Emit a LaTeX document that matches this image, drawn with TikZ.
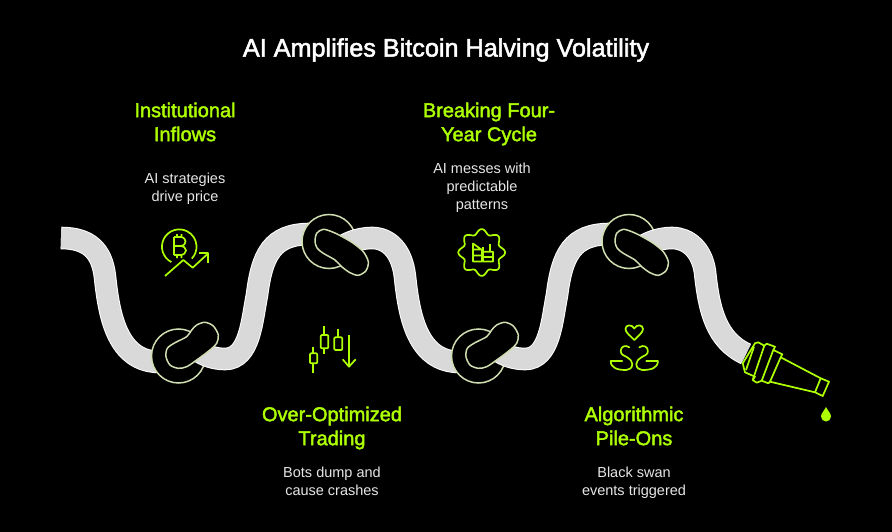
\documentclass[tikz,border=0pt]{standalone}
\usepackage{fontspec}
\setmainfont{Liberation Sans}
\newfontfamily\medfont[FakeBold=2]{Liberation Sans}
\definecolor{lime}{HTML}{AEFF00}
\definecolor{hosegrey}{HTML}{D9D9D9}
\definecolor{knotline}{HTML}{CFDDB0}
\definecolor{bodytext}{HTML}{E6E6E6}
\tikzset{
  titletext/.style={text=white,align=center,font=\medfont\fontsize{25.2}{30}\selectfont},
  headtext/.style={text=lime,align=center,font=\medfont\fontsize{20}{24}\selectfont},
  bodylabel/.style={text=bodytext,align=center,font=\fontsize{14.5}{18.2}\selectfont},
  hoseedge/.style={draw=white,line width=22.6pt},
  hosefill/.style={draw=hosegrey,line width=20.6pt},
  ringknot/.style={circle,draw=knotline,fill=black,line width=1.5pt,minimum size=54pt,inner sep=0pt},
  beanknot/.style={draw=knotline,fill=black,line width=1.5pt},
  icon/.style={draw=lime,line width=1.7pt,line join=round,fill=none},
}
\newcommand{\hoseseg}[1]{\draw[hoseedge] #1; \draw[hosefill] #1;}
\begin{document}
\begin{tikzpicture}[x=1pt,y=-1pt]
\path[use as bounding box,fill=black] (0,0) rectangle (892,532);
% texts
\node[titletext] (title) at (446,50) {AI Amplifies Bitcoin Halving Volatility};
\node[headtext] (h1) at (185,122) {Institutional\\Inflows};
\node[bodylabel] (b1) at (185,188.5) {AI strategies\\drive price};
\node[headtext] (h2) at (489,124) {Breaking Four-\\Year Cycle};
\node[bodylabel] (b2) at (482,188) {AI messes with\\predictable\\patterns};
\node[headtext] (h3) at (332,428) {Over-Optimized\\Trading};
\node[bodylabel] (b3) at (332,481.5) {Bots dump and\\cause crashes};
\node[headtext] (h4) at (634,426) {Algorithmic\\Pile-Ons};
\node[bodylabel] (b4) at (634,482.5) {Black swan\\events triggered};
% hose and knots
\hoseseg{(61,238) .. controls (88,238) and (102,250) .. (105,277) .. controls (109,315) and (117,362) .. (160,362)}
\node[ringknot] (ringa) at (178.5,356) {};
\hoseseg{(197,350) .. controls (205,356) and (215,359) .. (225,359) .. controls (250,359) and (252,320) .. (257,295) .. controls (262,255) and (272,234) .. (310,234)}
\node[ringknot] (ringb) at (329,241.5) {};
\hoseseg{(345,245) .. controls (352,241) and (362,238) .. (372,238) .. controls (388,238) and (402,250) .. (405,277) .. controls (409,315) and (417,362) .. (460,362)}
\node[ringknot] (ringc) at (478.5,356) {};
\hoseseg{(497,350) .. controls (505,356) and (515,359) .. (525,359) .. controls (550,359) and (552,320) .. (557,295) .. controls (562,255) and (572,234) .. (610,234)}
\node[ringknot] (ringd) at (629,241.5) {};
\hoseseg{(645,245) .. controls (652,241) and (662,238) .. (672,238) .. controls (688,238) and (702,250) .. (705,272) .. controls (709,310) and (716,340) .. (746,354)}
% beans
\foreach \d in {0,300}{
  \draw[beanknot,shift={(\d,0)}] plot[smooth cycle] coordinates {(166,356.7) (167.3,348.3) (175,342.7) (186.7,336.7) (191.7,330) (196.7,325) (205,322.3) (213.3,326) (218.3,335) (216.7,343.3) (210,350) (196.7,360) (186.7,366.7) (178.3,368.3) (170,365)};
  \draw[beanknot,shift={(\d,0)}] plot[smooth cycle] coordinates {(315,241.7) (316.7,233.3) (323.3,229.3) (333.3,232.3) (343.3,237.3) (353.3,243.3) (363.3,251.7) (368.3,261.7) (366,270.7) (358.3,275.3) (350,272.7) (341.7,266.7) (335,260) (323.3,253.3) (317.3,248.3)};
}
% nozzle
\fill[black] (742.7,363.3) -- (755,343.3) -- (775,346.7) -- (782.3,354.3) -- (820.7,378.3) -- (829,381.7) -- (822.7,396) -- (815,392.3) -- (770,381.7) -- (756.7,382.7) -- (745,372.3) -- cycle;
\draw[icon] (742.7,363.3) -- (755,343.3) -- (758.3,342.3) -- (764.3,345.7) -- (766.7,343.7) -- (775,346.7) -- (773.3,350) -- (782.3,354.3) -- (780.7,357.3) -- (820.7,378.3) -- (829,381.7) -- (822.7,396) -- (815,392.3) -- (770,381.7) -- (768.3,383.3) -- (761.7,380.7) -- (756.7,382.7) -- (752.7,380) -- (755,376.7) -- (745,372.3) -- cycle;
\draw[icon] (746,370) -- (754,346.7);
\draw[icon] (752.7,380) -- (764.3,345.7);
\draw[icon] (761.7,380.7) -- (773.3,350);
\draw[icon] (770,381.7) -- (780.7,357.3);
\draw[icon] (815,392.3) -- (820.7,378.3);
% bitcoin icon
\draw[icon] (171.4,262.1) arc[start angle=117,end angle=403.5,radius=17.3];
\draw[icon] (174,237) -- (174,255) (174,237) -- (180,237) .. controls (187.5,237) and (187.5,246) .. (180,246) -- (174,246) (180,246) .. controls (188,246) and (188,255) .. (180,255) -- (174,255) (177,234) -- (177,237) (181.5,234) -- (181.5,237) (177,255) -- (177,258) (181.5,255) -- (181.5,258);
\draw[icon] (165,276) -- (183.3,260) -- (192.7,267.7) -- (208.3,253.3);
\draw[icon] (199.3,253.3) -- (208.3,253.3) -- (208.3,262.7);
% gear icon
\draw[icon] plot[domain=0:360,samples=121,smooth] ({481.7+(21+2.4*cos(8*\x))*cos(\x)},{252.5+(21+2.4*cos(8*\x))*sin(\x)}) -- cycle;
\draw[icon] (473,261.5) -- (473,243.5) -- (482,250) -- (482,261.5) -- cycle (473,249.5) -- (482,249.5) (473,255.5) -- (482,255.5)
 (483,247) -- (483,261.5) -- (493,261.5) -- (493,251.7) -- (483,251.7) (483,257) -- (493,257) (490,244) -- (490,251.7);
% candlestick icon
\draw[icon] (313.3,346.7) -- (313.3,353.3) (313.3,363.3) -- (313.3,372.7);
\draw[icon,rounded corners=1pt] (310,353.3) rectangle (317.3,363.3);
\draw[icon] (324.3,326) -- (324.3,335) (324.3,348.3) -- (324.3,354.3);
\draw[icon,rounded corners=1pt] (320.7,335) rectangle (328.3,348.3);
\draw[icon] (338.3,329.3) -- (338.3,337.3);
\draw[icon,rounded corners=1pt] (334.3,337.3) rectangle (342.3,350);
\draw[icon] (349,335) -- (349,366.7) (342.7,359.3) -- (349,366.7) -- (355.7,359.3);
% swans icon
\draw[icon] (634.3,340) .. controls (630,335.5) and (625.5,332.5) .. (625.5,329) .. controls (625.5,324.5) and (632,324) .. (634.3,328.5) .. controls (636.6,324) and (643,324.5) .. (643,329) .. controls (643,332.5) and (638.5,335.5) .. (634.3,340) -- cycle;
\foreach \s in {1,-1}{
  \begin{scope}[shift={(634.3,0)},xscale=\s]
  \draw[icon,line cap=round] (-5,347.3) .. controls (-9,344.5) and (-13.6,346.5) .. (-13.6,351) .. controls (-13.6,355) and (-10,355.5) .. (-7.6,357) .. controls (-4,359.5) and (-2,361) .. (-2,364) .. controls (-2,368) and (-5,370) .. (-8,370) .. controls (-17,370) and (-23.6,368) .. (-23.6,361) -- (-12,361);
  \end{scope}
}
% drop
\fill[lime] (826,407) .. controls (828,411) and (831,413.5) .. (831,416.5) .. controls (831,419.5) and (828.5,421.5) .. (826,421.5) .. controls (823.5,421.5) and (821,419.5) .. (821,416.5) .. controls (821,413.5) and (824,411) .. (826,407) -- cycle;
\end{tikzpicture}
\end{document}
